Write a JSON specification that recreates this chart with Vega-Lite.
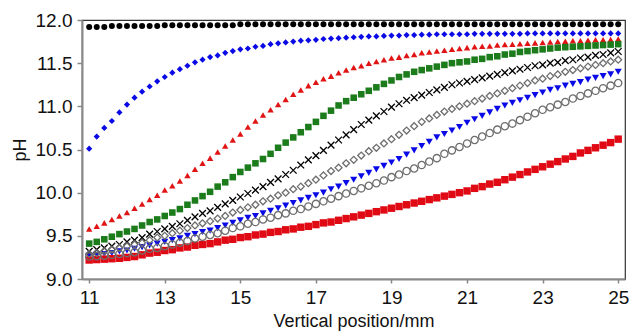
{"$schema":"https://vega.github.io/schema/vega-lite/v6.json","width":543,"height":259,"autosize":{"type":"none"},"padding":{"left":82,"top":20,"right":5,"bottom":56},"background":"white","config":{"view":{"stroke":"#333333","strokeWidth":1.2},"font":"Liberation Sans"},
"data":{"values":[
{"x":11,"s":"A","y":11.92},{"x":11.2,"s":"A","y":11.92},{"x":11.4,"s":"A","y":11.92},{"x":11.6,"s":"A","y":11.93},{"x":11.8,"s":"A","y":11.93},{"x":12,"s":"A","y":11.93},{"x":12.2,"s":"A","y":11.93},{"x":12.4,"s":"A","y":11.93},{"x":12.6,"s":"A","y":11.93},{"x":12.8,"s":"A","y":11.93},{"x":13,"s":"A","y":11.94},{"x":13.2,"s":"A","y":11.94},{"x":13.4,"s":"A","y":11.94},{"x":13.6,"s":"A","y":11.94},{"x":13.8,"s":"A","y":11.94},{"x":14,"s":"A","y":11.94},{"x":14.2,"s":"A","y":11.94},{"x":14.4,"s":"A","y":11.94},{"x":14.6,"s":"A","y":11.94},{"x":14.8,"s":"A","y":11.94},{"x":15,"s":"A","y":11.95},{"x":15.2,"s":"A","y":11.95},{"x":15.4,"s":"A","y":11.95},{"x":15.6,"s":"A","y":11.95},{"x":15.8,"s":"A","y":11.95},{"x":16,"s":"A","y":11.95},{"x":16.2,"s":"A","y":11.95},{"x":16.4,"s":"A","y":11.95},{"x":16.6,"s":"A","y":11.95},{"x":16.8,"s":"A","y":11.95},{"x":17,"s":"A","y":11.95},{"x":17.2,"s":"A","y":11.95},{"x":17.4,"s":"A","y":11.95},{"x":17.6,"s":"A","y":11.95},{"x":17.8,"s":"A","y":11.95},{"x":18,"s":"A","y":11.95},{"x":18.2,"s":"A","y":11.95},{"x":18.4,"s":"A","y":11.95},{"x":18.6,"s":"A","y":11.95},{"x":18.8,"s":"A","y":11.95},{"x":19,"s":"A","y":11.95},{"x":19.2,"s":"A","y":11.95},{"x":19.4,"s":"A","y":11.95},{"x":19.6,"s":"A","y":11.95},{"x":19.8,"s":"A","y":11.95},{"x":20,"s":"A","y":11.95},{"x":20.2,"s":"A","y":11.95},{"x":20.4,"s":"A","y":11.95},{"x":20.6,"s":"A","y":11.95},{"x":20.8,"s":"A","y":11.95},{"x":21,"s":"A","y":11.95},{"x":21.2,"s":"A","y":11.95},{"x":21.4,"s":"A","y":11.95},{"x":21.6,"s":"A","y":11.95},{"x":21.8,"s":"A","y":11.95},{"x":22,"s":"A","y":11.95},{"x":22.2,"s":"A","y":11.95},{"x":22.4,"s":"A","y":11.95},{"x":22.6,"s":"A","y":11.95},{"x":22.8,"s":"A","y":11.95},{"x":23,"s":"A","y":11.95},{"x":23.2,"s":"A","y":11.95},{"x":23.4,"s":"A","y":11.95},{"x":23.6,"s":"A","y":11.95},{"x":23.8,"s":"A","y":11.95},{"x":24,"s":"A","y":11.95},{"x":24.2,"s":"A","y":11.95},{"x":24.4,"s":"A","y":11.95},{"x":24.6,"s":"A","y":11.95},{"x":24.8,"s":"A","y":11.95},{"x":25,"s":"A","y":11.95},
{"x":11,"s":"B","y":10.51},{"x":11.2,"s":"B","y":10.65},{"x":11.4,"s":"B","y":10.75},{"x":11.6,"s":"B","y":10.83},{"x":11.8,"s":"B","y":10.93},{"x":12,"s":"B","y":11.02},{"x":12.2,"s":"B","y":11.1},{"x":12.4,"s":"B","y":11.17},{"x":12.6,"s":"B","y":11.23},{"x":12.8,"s":"B","y":11.29},{"x":13,"s":"B","y":11.34},{"x":13.2,"s":"B","y":11.39},{"x":13.4,"s":"B","y":11.43},{"x":13.6,"s":"B","y":11.47},{"x":13.8,"s":"B","y":11.51},{"x":14,"s":"B","y":11.54},{"x":14.2,"s":"B","y":11.57},{"x":14.4,"s":"B","y":11.59},{"x":14.6,"s":"B","y":11.62},{"x":14.8,"s":"B","y":11.64},{"x":15,"s":"B","y":11.66},{"x":15.2,"s":"B","y":11.67},{"x":15.4,"s":"B","y":11.69},{"x":15.6,"s":"B","y":11.7},{"x":15.8,"s":"B","y":11.72},{"x":16,"s":"B","y":11.73},{"x":16.2,"s":"B","y":11.74},{"x":16.4,"s":"B","y":11.75},{"x":16.6,"s":"B","y":11.76},{"x":16.8,"s":"B","y":11.765},{"x":17,"s":"B","y":11.77},{"x":17.2,"s":"B","y":11.78},{"x":17.4,"s":"B","y":11.785},{"x":17.6,"s":"B","y":11.79},{"x":17.8,"s":"B","y":11.795},{"x":18,"s":"B","y":11.8},{"x":18.2,"s":"B","y":11.805},{"x":18.4,"s":"B","y":11.81},{"x":18.6,"s":"B","y":11.81},{"x":18.8,"s":"B","y":11.815},{"x":19,"s":"B","y":11.82},{"x":19.2,"s":"B","y":11.82},{"x":19.4,"s":"B","y":11.825},{"x":19.6,"s":"B","y":11.825},{"x":19.8,"s":"B","y":11.83},{"x":20,"s":"B","y":11.83},{"x":20.2,"s":"B","y":11.835},{"x":20.4,"s":"B","y":11.835},{"x":20.6,"s":"B","y":11.835},{"x":20.8,"s":"B","y":11.835},{"x":21,"s":"B","y":11.835},{"x":21.2,"s":"B","y":11.84},{"x":21.4,"s":"B","y":11.84},{"x":21.6,"s":"B","y":11.84},{"x":21.8,"s":"B","y":11.84},{"x":22,"s":"B","y":11.84},{"x":22.2,"s":"B","y":11.84},{"x":22.4,"s":"B","y":11.84},{"x":22.6,"s":"B","y":11.845},{"x":22.8,"s":"B","y":11.845},{"x":23,"s":"B","y":11.845},{"x":23.2,"s":"B","y":11.845},{"x":23.4,"s":"B","y":11.845},{"x":23.6,"s":"B","y":11.845},{"x":23.8,"s":"B","y":11.845},{"x":24,"s":"B","y":11.845},{"x":24.2,"s":"B","y":11.845},{"x":24.4,"s":"B","y":11.845},{"x":24.6,"s":"B","y":11.845},{"x":24.8,"s":"B","y":11.845},{"x":25,"s":"B","y":11.845},
{"x":11,"s":"C","y":9.58},{"x":11.2,"s":"C","y":9.61},{"x":11.4,"s":"C","y":9.65},{"x":11.6,"s":"C","y":9.69},{"x":11.8,"s":"C","y":9.73},{"x":12,"s":"C","y":9.77},{"x":12.2,"s":"C","y":9.82},{"x":12.4,"s":"C","y":9.87},{"x":12.6,"s":"C","y":9.92},{"x":12.8,"s":"C","y":9.97},{"x":13,"s":"C","y":10.03},{"x":13.2,"s":"C","y":10.08},{"x":13.4,"s":"C","y":10.135},{"x":13.6,"s":"C","y":10.2},{"x":13.8,"s":"C","y":10.27},{"x":14,"s":"C","y":10.34},{"x":14.2,"s":"C","y":10.4},{"x":14.4,"s":"C","y":10.47},{"x":14.6,"s":"C","y":10.54},{"x":14.8,"s":"C","y":10.61},{"x":15,"s":"C","y":10.68},{"x":15.2,"s":"C","y":10.76},{"x":15.4,"s":"C","y":10.83},{"x":15.6,"s":"C","y":10.9},{"x":15.8,"s":"C","y":10.96},{"x":16,"s":"C","y":11.02},{"x":16.2,"s":"C","y":11.08},{"x":16.4,"s":"C","y":11.14},{"x":16.6,"s":"C","y":11.19},{"x":16.8,"s":"C","y":11.24},{"x":17,"s":"C","y":11.28},{"x":17.2,"s":"C","y":11.32},{"x":17.4,"s":"C","y":11.35},{"x":17.6,"s":"C","y":11.39},{"x":17.8,"s":"C","y":11.42},{"x":18,"s":"C","y":11.45},{"x":18.2,"s":"C","y":11.47},{"x":18.4,"s":"C","y":11.5},{"x":18.6,"s":"C","y":11.52},{"x":18.8,"s":"C","y":11.54},{"x":19,"s":"C","y":11.56},{"x":19.2,"s":"C","y":11.57},{"x":19.4,"s":"C","y":11.59},{"x":19.6,"s":"C","y":11.6},{"x":19.8,"s":"C","y":11.62},{"x":20,"s":"C","y":11.63},{"x":20.2,"s":"C","y":11.64},{"x":20.4,"s":"C","y":11.65},{"x":20.6,"s":"C","y":11.66},{"x":20.8,"s":"C","y":11.67},{"x":21,"s":"C","y":11.68},{"x":21.2,"s":"C","y":11.69},{"x":21.4,"s":"C","y":11.695},{"x":21.6,"s":"C","y":11.7},{"x":21.8,"s":"C","y":11.71},{"x":22,"s":"C","y":11.715},{"x":22.2,"s":"C","y":11.72},{"x":22.4,"s":"C","y":11.725},{"x":22.6,"s":"C","y":11.73},{"x":22.8,"s":"C","y":11.735},{"x":23,"s":"C","y":11.74},{"x":23.2,"s":"C","y":11.745},{"x":23.4,"s":"C","y":11.75},{"x":23.6,"s":"C","y":11.755},{"x":23.8,"s":"C","y":11.76},{"x":24,"s":"C","y":11.76},{"x":24.2,"s":"C","y":11.765},{"x":24.4,"s":"C","y":11.77},{"x":24.6,"s":"C","y":11.77},{"x":24.8,"s":"C","y":11.775},{"x":25,"s":"C","y":11.78},
{"x":11,"s":"D","y":9.41},{"x":11.2,"s":"D","y":9.43},{"x":11.4,"s":"D","y":9.46},{"x":11.6,"s":"D","y":9.49},{"x":11.8,"s":"D","y":9.52},{"x":12,"s":"D","y":9.55},{"x":12.2,"s":"D","y":9.58},{"x":12.4,"s":"D","y":9.62},{"x":12.6,"s":"D","y":9.66},{"x":12.8,"s":"D","y":9.69},{"x":13,"s":"D","y":9.73},{"x":13.2,"s":"D","y":9.77},{"x":13.4,"s":"D","y":9.81},{"x":13.6,"s":"D","y":9.86},{"x":13.8,"s":"D","y":9.91},{"x":14,"s":"D","y":9.96},{"x":14.2,"s":"D","y":10.01},{"x":14.4,"s":"D","y":10.07},{"x":14.6,"s":"D","y":10.12},{"x":14.8,"s":"D","y":10.18},{"x":15,"s":"D","y":10.24},{"x":15.2,"s":"D","y":10.29},{"x":15.4,"s":"D","y":10.34},{"x":15.6,"s":"D","y":10.39},{"x":15.8,"s":"D","y":10.45},{"x":16,"s":"D","y":10.52},{"x":16.2,"s":"D","y":10.58},{"x":16.4,"s":"D","y":10.64},{"x":16.6,"s":"D","y":10.7},{"x":16.8,"s":"D","y":10.76},{"x":17,"s":"D","y":10.82},{"x":17.2,"s":"D","y":10.89},{"x":17.4,"s":"D","y":10.95},{"x":17.6,"s":"D","y":11.01},{"x":17.8,"s":"D","y":11.06},{"x":18,"s":"D","y":11.1},{"x":18.2,"s":"D","y":11.14},{"x":18.4,"s":"D","y":11.18},{"x":18.6,"s":"D","y":11.22},{"x":18.8,"s":"D","y":11.26},{"x":19,"s":"D","y":11.3},{"x":19.2,"s":"D","y":11.34},{"x":19.4,"s":"D","y":11.37},{"x":19.6,"s":"D","y":11.4},{"x":19.8,"s":"D","y":11.42},{"x":20,"s":"D","y":11.44},{"x":20.2,"s":"D","y":11.46},{"x":20.4,"s":"D","y":11.48},{"x":20.6,"s":"D","y":11.5},{"x":20.8,"s":"D","y":11.51},{"x":21,"s":"D","y":11.52},{"x":21.2,"s":"D","y":11.54},{"x":21.4,"s":"D","y":11.55},{"x":21.6,"s":"D","y":11.57},{"x":21.8,"s":"D","y":11.58},{"x":22,"s":"D","y":11.6},{"x":22.2,"s":"D","y":11.61},{"x":22.4,"s":"D","y":11.63},{"x":22.6,"s":"D","y":11.64},{"x":22.8,"s":"D","y":11.65},{"x":23,"s":"D","y":11.66},{"x":23.2,"s":"D","y":11.67},{"x":23.4,"s":"D","y":11.68},{"x":23.6,"s":"D","y":11.685},{"x":23.8,"s":"D","y":11.69},{"x":24,"s":"D","y":11.695},{"x":24.2,"s":"D","y":11.7},{"x":24.4,"s":"D","y":11.705},{"x":24.6,"s":"D","y":11.71},{"x":24.8,"s":"D","y":11.715},{"x":25,"s":"D","y":11.72},
{"x":11,"s":"E","y":9.32},{"x":11.2,"s":"E","y":9.34},{"x":11.4,"s":"E","y":9.36},{"x":11.6,"s":"E","y":9.38},{"x":11.8,"s":"E","y":9.4},{"x":12,"s":"E","y":9.43},{"x":12.2,"s":"E","y":9.45},{"x":12.4,"s":"E","y":9.48},{"x":12.6,"s":"E","y":9.52},{"x":12.8,"s":"E","y":9.55},{"x":13,"s":"E","y":9.58},{"x":13.2,"s":"E","y":9.61},{"x":13.4,"s":"E","y":9.64},{"x":13.6,"s":"E","y":9.68},{"x":13.8,"s":"E","y":9.72},{"x":14,"s":"E","y":9.76},{"x":14.2,"s":"E","y":9.79},{"x":14.4,"s":"E","y":9.83},{"x":14.6,"s":"E","y":9.87},{"x":14.8,"s":"E","y":9.91},{"x":15,"s":"E","y":9.95},{"x":15.2,"s":"E","y":9.99},{"x":15.4,"s":"E","y":10.03},{"x":15.6,"s":"E","y":10.07},{"x":15.8,"s":"E","y":10.12},{"x":16,"s":"E","y":10.16},{"x":16.2,"s":"E","y":10.21},{"x":16.4,"s":"E","y":10.26},{"x":16.6,"s":"E","y":10.32},{"x":16.8,"s":"E","y":10.38},{"x":17,"s":"E","y":10.43},{"x":17.2,"s":"E","y":10.49},{"x":17.4,"s":"E","y":10.55},{"x":17.6,"s":"E","y":10.61},{"x":17.8,"s":"E","y":10.67},{"x":18,"s":"E","y":10.73},{"x":18.2,"s":"E","y":10.79},{"x":18.4,"s":"E","y":10.84},{"x":18.6,"s":"E","y":10.89},{"x":18.8,"s":"E","y":10.94},{"x":19,"s":"E","y":10.99},{"x":19.2,"s":"E","y":11.03},{"x":19.4,"s":"E","y":11.07},{"x":19.6,"s":"E","y":11.1},{"x":19.8,"s":"E","y":11.13},{"x":20,"s":"E","y":11.16},{"x":20.2,"s":"E","y":11.19},{"x":20.4,"s":"E","y":11.22},{"x":20.6,"s":"E","y":11.25},{"x":20.8,"s":"E","y":11.27},{"x":21,"s":"E","y":11.29},{"x":21.2,"s":"E","y":11.31},{"x":21.4,"s":"E","y":11.33},{"x":21.6,"s":"E","y":11.35},{"x":21.8,"s":"E","y":11.37},{"x":22,"s":"E","y":11.39},{"x":22.2,"s":"E","y":11.41},{"x":22.4,"s":"E","y":11.43},{"x":22.6,"s":"E","y":11.45},{"x":22.8,"s":"E","y":11.47},{"x":23,"s":"E","y":11.48},{"x":23.2,"s":"E","y":11.5},{"x":23.4,"s":"E","y":11.51},{"x":23.6,"s":"E","y":11.53},{"x":23.8,"s":"E","y":11.54},{"x":24,"s":"E","y":11.56},{"x":24.2,"s":"E","y":11.57},{"x":24.4,"s":"E","y":11.59},{"x":24.6,"s":"E","y":11.6},{"x":24.8,"s":"E","y":11.62},{"x":25,"s":"E","y":11.635},
{"x":11,"s":"F","y":9.29},{"x":11.2,"s":"F","y":9.3},{"x":11.4,"s":"F","y":9.32},{"x":11.6,"s":"F","y":9.34},{"x":11.8,"s":"F","y":9.36},{"x":12,"s":"F","y":9.38},{"x":12.2,"s":"F","y":9.4},{"x":12.4,"s":"F","y":9.42},{"x":12.6,"s":"F","y":9.45},{"x":12.8,"s":"F","y":9.48},{"x":13,"s":"F","y":9.5},{"x":13.2,"s":"F","y":9.53},{"x":13.4,"s":"F","y":9.56},{"x":13.6,"s":"F","y":9.59},{"x":13.8,"s":"F","y":9.62},{"x":14,"s":"F","y":9.645},{"x":14.2,"s":"F","y":9.67},{"x":14.4,"s":"F","y":9.7},{"x":14.6,"s":"F","y":9.73},{"x":14.8,"s":"F","y":9.77},{"x":15,"s":"F","y":9.8},{"x":15.2,"s":"F","y":9.83},{"x":15.4,"s":"F","y":9.86},{"x":15.6,"s":"F","y":9.9},{"x":15.8,"s":"F","y":9.93},{"x":16,"s":"F","y":9.97},{"x":16.2,"s":"F","y":10},{"x":16.4,"s":"F","y":10.04},{"x":16.6,"s":"F","y":10.07},{"x":16.8,"s":"F","y":10.11},{"x":17,"s":"F","y":10.15},{"x":17.2,"s":"F","y":10.2},{"x":17.4,"s":"F","y":10.25},{"x":17.6,"s":"F","y":10.29},{"x":17.8,"s":"F","y":10.34},{"x":18,"s":"F","y":10.38},{"x":18.2,"s":"F","y":10.43},{"x":18.4,"s":"F","y":10.48},{"x":18.6,"s":"F","y":10.52},{"x":18.8,"s":"F","y":10.57},{"x":19,"s":"F","y":10.62},{"x":19.2,"s":"F","y":10.67},{"x":19.4,"s":"F","y":10.72},{"x":19.6,"s":"F","y":10.77},{"x":19.8,"s":"F","y":10.82},{"x":20,"s":"F","y":10.86},{"x":20.2,"s":"F","y":10.9},{"x":20.4,"s":"F","y":10.94},{"x":20.6,"s":"F","y":10.97},{"x":20.8,"s":"F","y":11},{"x":21,"s":"F","y":11.03},{"x":21.2,"s":"F","y":11.06},{"x":21.4,"s":"F","y":11.09},{"x":21.6,"s":"F","y":11.12},{"x":21.8,"s":"F","y":11.15},{"x":22,"s":"F","y":11.18},{"x":22.2,"s":"F","y":11.21},{"x":22.4,"s":"F","y":11.24},{"x":22.6,"s":"F","y":11.27},{"x":22.8,"s":"F","y":11.3},{"x":23,"s":"F","y":11.32},{"x":23.2,"s":"F","y":11.35},{"x":23.4,"s":"F","y":11.37},{"x":23.6,"s":"F","y":11.4},{"x":23.8,"s":"F","y":11.42},{"x":24,"s":"F","y":11.44},{"x":24.2,"s":"F","y":11.46},{"x":24.4,"s":"F","y":11.48},{"x":24.6,"s":"F","y":11.5},{"x":24.8,"s":"F","y":11.52},{"x":25,"s":"F","y":11.54},
{"x":11,"s":"G","y":9.27},{"x":11.2,"s":"G","y":9.28},{"x":11.4,"s":"G","y":9.29},{"x":11.6,"s":"G","y":9.3},{"x":11.8,"s":"G","y":9.32},{"x":12,"s":"G","y":9.33},{"x":12.2,"s":"G","y":9.35},{"x":12.4,"s":"G","y":9.37},{"x":12.6,"s":"G","y":9.39},{"x":12.8,"s":"G","y":9.41},{"x":13,"s":"G","y":9.43},{"x":13.2,"s":"G","y":9.45},{"x":13.4,"s":"G","y":9.47},{"x":13.6,"s":"G","y":9.5},{"x":13.8,"s":"G","y":9.52},{"x":14,"s":"G","y":9.545},{"x":14.2,"s":"G","y":9.56},{"x":14.4,"s":"G","y":9.59},{"x":14.6,"s":"G","y":9.62},{"x":14.8,"s":"G","y":9.65},{"x":15,"s":"G","y":9.68},{"x":15.2,"s":"G","y":9.71},{"x":15.4,"s":"G","y":9.73},{"x":15.6,"s":"G","y":9.76},{"x":15.8,"s":"G","y":9.79},{"x":16,"s":"G","y":9.82},{"x":16.2,"s":"G","y":9.85},{"x":16.4,"s":"G","y":9.88},{"x":16.6,"s":"G","y":9.91},{"x":16.8,"s":"G","y":9.94},{"x":17,"s":"G","y":9.97},{"x":17.2,"s":"G","y":10},{"x":17.4,"s":"G","y":10.04},{"x":17.6,"s":"G","y":10.07},{"x":17.8,"s":"G","y":10.11},{"x":18,"s":"G","y":10.15},{"x":18.2,"s":"G","y":10.19},{"x":18.4,"s":"G","y":10.23},{"x":18.6,"s":"G","y":10.27},{"x":18.8,"s":"G","y":10.31},{"x":19,"s":"G","y":10.35},{"x":19.2,"s":"G","y":10.39},{"x":19.4,"s":"G","y":10.44},{"x":19.6,"s":"G","y":10.49},{"x":19.8,"s":"G","y":10.54},{"x":20,"s":"G","y":10.59},{"x":20.2,"s":"G","y":10.64},{"x":20.4,"s":"G","y":10.68},{"x":20.6,"s":"G","y":10.72},{"x":20.8,"s":"G","y":10.76},{"x":21,"s":"G","y":10.81},{"x":21.2,"s":"G","y":10.85},{"x":21.4,"s":"G","y":10.89},{"x":21.6,"s":"G","y":10.93},{"x":21.8,"s":"G","y":10.97},{"x":22,"s":"G","y":11.01},{"x":22.2,"s":"G","y":11.04},{"x":22.4,"s":"G","y":11.07},{"x":22.6,"s":"G","y":11.1},{"x":22.8,"s":"G","y":11.13},{"x":23,"s":"G","y":11.16},{"x":23.2,"s":"G","y":11.19},{"x":23.4,"s":"G","y":11.21},{"x":23.6,"s":"G","y":11.24},{"x":23.8,"s":"G","y":11.26},{"x":24,"s":"G","y":11.28},{"x":24.2,"s":"G","y":11.31},{"x":24.4,"s":"G","y":11.33},{"x":24.6,"s":"G","y":11.35},{"x":24.8,"s":"G","y":11.37},{"x":25,"s":"G","y":11.4},
{"x":11,"s":"H","y":9.26},{"x":11.2,"s":"H","y":9.265},{"x":11.4,"s":"H","y":9.27},{"x":11.6,"s":"H","y":9.28},{"x":11.8,"s":"H","y":9.29},{"x":12,"s":"H","y":9.3},{"x":12.2,"s":"H","y":9.31},{"x":12.4,"s":"H","y":9.33},{"x":12.6,"s":"H","y":9.35},{"x":12.8,"s":"H","y":9.36},{"x":13,"s":"H","y":9.38},{"x":13.2,"s":"H","y":9.4},{"x":13.4,"s":"H","y":9.42},{"x":13.6,"s":"H","y":9.44},{"x":13.8,"s":"H","y":9.47},{"x":14,"s":"H","y":9.49},{"x":14.2,"s":"H","y":9.51},{"x":14.4,"s":"H","y":9.53},{"x":14.6,"s":"H","y":9.56},{"x":14.8,"s":"H","y":9.59},{"x":15,"s":"H","y":9.61},{"x":15.2,"s":"H","y":9.64},{"x":15.4,"s":"H","y":9.66},{"x":15.6,"s":"H","y":9.69},{"x":15.8,"s":"H","y":9.71},{"x":16,"s":"H","y":9.74},{"x":16.2,"s":"H","y":9.76},{"x":16.4,"s":"H","y":9.79},{"x":16.6,"s":"H","y":9.81},{"x":16.8,"s":"H","y":9.84},{"x":17,"s":"H","y":9.87},{"x":17.2,"s":"H","y":9.9},{"x":17.4,"s":"H","y":9.93},{"x":17.6,"s":"H","y":9.96},{"x":17.8,"s":"H","y":9.99},{"x":18,"s":"H","y":10.02},{"x":18.2,"s":"H","y":10.05},{"x":18.4,"s":"H","y":10.08},{"x":18.6,"s":"H","y":10.11},{"x":18.8,"s":"H","y":10.14},{"x":19,"s":"H","y":10.18},{"x":19.2,"s":"H","y":10.21},{"x":19.4,"s":"H","y":10.25},{"x":19.6,"s":"H","y":10.28},{"x":19.8,"s":"H","y":10.32},{"x":20,"s":"H","y":10.36},{"x":20.2,"s":"H","y":10.4},{"x":20.4,"s":"H","y":10.45},{"x":20.6,"s":"H","y":10.49},{"x":20.8,"s":"H","y":10.53},{"x":21,"s":"H","y":10.57},{"x":21.2,"s":"H","y":10.61},{"x":21.4,"s":"H","y":10.65},{"x":21.6,"s":"H","y":10.69},{"x":21.8,"s":"H","y":10.73},{"x":22,"s":"H","y":10.77},{"x":22.2,"s":"H","y":10.8},{"x":22.4,"s":"H","y":10.84},{"x":22.6,"s":"H","y":10.88},{"x":22.8,"s":"H","y":10.92},{"x":23,"s":"H","y":10.96},{"x":23.2,"s":"H","y":10.99},{"x":23.4,"s":"H","y":11.02},{"x":23.6,"s":"H","y":11.05},{"x":23.8,"s":"H","y":11.09},{"x":24,"s":"H","y":11.12},{"x":24.2,"s":"H","y":11.15},{"x":24.4,"s":"H","y":11.18},{"x":24.6,"s":"H","y":11.21},{"x":24.8,"s":"H","y":11.24},{"x":25,"s":"H","y":11.27},
{"x":11,"s":"I","y":9.22},{"x":11.2,"s":"I","y":9.225},{"x":11.4,"s":"I","y":9.23},{"x":11.6,"s":"I","y":9.235},{"x":11.8,"s":"I","y":9.24},{"x":12,"s":"I","y":9.25},{"x":12.2,"s":"I","y":9.26},{"x":12.4,"s":"I","y":9.28},{"x":12.6,"s":"I","y":9.3},{"x":12.8,"s":"I","y":9.31},{"x":13,"s":"I","y":9.33},{"x":13.2,"s":"I","y":9.34},{"x":13.4,"s":"I","y":9.36},{"x":13.6,"s":"I","y":9.37},{"x":13.8,"s":"I","y":9.39},{"x":14,"s":"I","y":9.4},{"x":14.2,"s":"I","y":9.41},{"x":14.4,"s":"I","y":9.43},{"x":14.6,"s":"I","y":9.45},{"x":14.8,"s":"I","y":9.46},{"x":15,"s":"I","y":9.48},{"x":15.2,"s":"I","y":9.49},{"x":15.4,"s":"I","y":9.51},{"x":15.6,"s":"I","y":9.52},{"x":15.8,"s":"I","y":9.54},{"x":16,"s":"I","y":9.55},{"x":16.2,"s":"I","y":9.57},{"x":16.4,"s":"I","y":9.58},{"x":16.6,"s":"I","y":9.6},{"x":16.8,"s":"I","y":9.61},{"x":17,"s":"I","y":9.63},{"x":17.2,"s":"I","y":9.65},{"x":17.4,"s":"I","y":9.66},{"x":17.6,"s":"I","y":9.68},{"x":17.8,"s":"I","y":9.7},{"x":18,"s":"I","y":9.72},{"x":18.2,"s":"I","y":9.74},{"x":18.4,"s":"I","y":9.76},{"x":18.6,"s":"I","y":9.78},{"x":18.8,"s":"I","y":9.8},{"x":19,"s":"I","y":9.82},{"x":19.2,"s":"I","y":9.84},{"x":19.4,"s":"I","y":9.86},{"x":19.6,"s":"I","y":9.88},{"x":19.8,"s":"I","y":9.9},{"x":20,"s":"I","y":9.92},{"x":20.2,"s":"I","y":9.94},{"x":20.4,"s":"I","y":9.96},{"x":20.6,"s":"I","y":9.98},{"x":20.8,"s":"I","y":10},{"x":21,"s":"I","y":10.02},{"x":21.2,"s":"I","y":10.05},{"x":21.4,"s":"I","y":10.07},{"x":21.6,"s":"I","y":10.1},{"x":21.8,"s":"I","y":10.12},{"x":22,"s":"I","y":10.15},{"x":22.2,"s":"I","y":10.18},{"x":22.4,"s":"I","y":10.21},{"x":22.6,"s":"I","y":10.24},{"x":22.8,"s":"I","y":10.27},{"x":23,"s":"I","y":10.3},{"x":23.2,"s":"I","y":10.33},{"x":23.4,"s":"I","y":10.36},{"x":23.6,"s":"I","y":10.39},{"x":23.8,"s":"I","y":10.42},{"x":24,"s":"I","y":10.46},{"x":24.2,"s":"I","y":10.49},{"x":24.4,"s":"I","y":10.52},{"x":24.6,"s":"I","y":10.55},{"x":24.8,"s":"I","y":10.58},{"x":25,"s":"I","y":10.62}
]},
"encoding":{
"x":{"field":"x","type":"quantitative","scale":{"domain":[10.81,25.18],"nice":false,"zero":false},"axis":{"values":[11,13,15,17,19,21,23,25],"format":"d","title":"Vertical position/mm","grid":false,"domainColor":"#888888","domainWidth":2,"tickColor":"#888888","tickSize":4,"tickWidth":1.5,"labelFontSize":19,"labelColor":"#111111","labelPadding":5,"titleFontSize":18,"titleFontWeight":"normal","titleColor":"#111111","titlePadding":5,"labelFont":"Liberation Sans","titleFont":"Liberation Sans"}},
"y":{"field":"y","type":"quantitative","scale":{"domain":[9,12],"nice":false,"zero":false},"axis":{"values":[9,9.5,10,10.5,11,11.5,12],"format":".1f","title":"pH","grid":false,"domainColor":"#888888","domainWidth":2,"tickColor":"#888888","tickSize":5,"tickWidth":1.5,"labelFontSize":19,"labelColor":"#111111","labelPadding":5,"titleFontSize":18,"titleFontWeight":"normal","titleColor":"#111111","titlePadding":6,"labelFont":"Liberation Sans","titleFont":"Liberation Sans"}},
"shape":{"field":"s","type":"nominal","scale":{"domain":["A","B","C","D","E","F","G","H","I"],"range":["circle","diamond","triangle-up","square","M-1,-1L1,1M1,-1L-1,1","diamond","triangle-down","circle","square"]},"legend":null},
"color":{"field":"s","type":"nominal","scale":{"domain":["A","B","C","D","E","F","G","H","I"],"range":["#000000","#0a0ae6","#e01414","#1c7c1c","#000000","#6e6e6e","#0a0ae6","#6e6e6e","#e00a14"]},"legend":null},
"size":{"field":"s","type":"nominal","scale":{"domain":["A","B","C","D","E","F","G","H","I"],"range":[36,55,48,40,36,40,40,34,40]},"legend":null}
},
"layer":[
{"transform":[{"filter":{"field":"s","oneOf":["A","B","C","D","G","I"]}}],"mark":{"type":"point","filled":true,"opacity":1}},
{"transform":[{"filter":{"field":"s","oneOf":["E","F","H"]}}],"mark":{"type":"point","filled":false,"opacity":1,"strokeWidth":1.3}}
]}
